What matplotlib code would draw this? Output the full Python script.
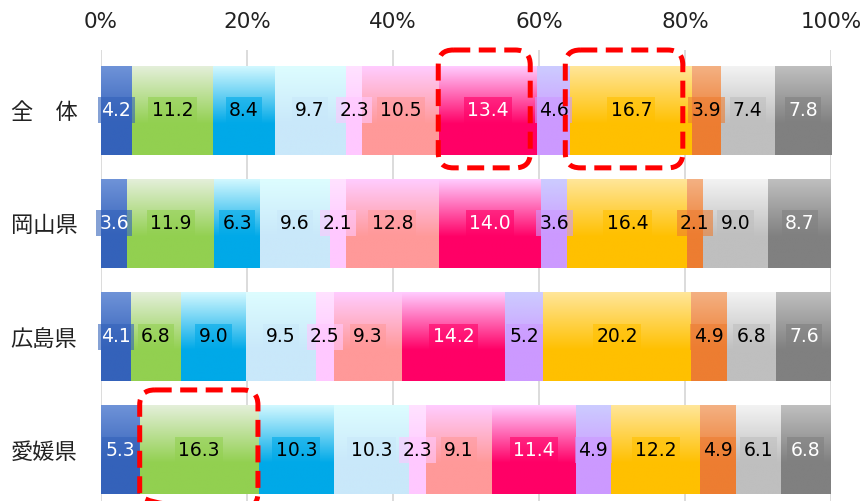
import numpy as np
import matplotlib
matplotlib.use("Agg")
import matplotlib.pyplot as plt
from matplotlib.colors import to_rgb
from matplotlib.patches import FancyBboxPatch

plt.rcParams['font.family'] = ['DejaVu Sans', 'Noto Sans CJK JP']

regions = ['全\u3000体', '岡山県', '広島県', '愛媛県']
values = [
    [4.2, 11.2, 8.4, 9.7, 2.3, 10.5, 13.4, 4.6, 16.7, 3.9, 7.4, 7.8],
    [3.6, 11.9, 6.3, 9.6, 2.1, 12.8, 14.0, 3.6, 16.4, 2.1, 9.0, 8.7],
    [4.1, 6.8, 9.0, 9.5, 2.5, 9.3, 14.2, 5.2, 20.2, 4.9, 6.8, 7.6],
    [5.3, 16.3, 10.3, 10.3, 2.3, 9.1, 11.4, 4.9, 12.2, 4.9, 6.1, 6.8],
]
xticks = [0, 20, 40, 60, 80, 100]
xticklabels = ['0%', '20%', '40%', '60%', '80%', '100%']

base_colors = ['#3462BA', '#92D050', '#00A9E8', '#C9E8FA', '#FFC8FF', '#FF9999',
               '#FF0066', '#CC99FF', '#FFC000', '#ED7D31', '#BFBFBF', '#808080']
top_colors = ['#6F93D8', '#E4EFDA', '#D2F8FF', '#DDFDFF', '#FFE2FF', '#FFCCFF',
              '#FFCCFF', '#CCCCFF', '#FFE69A', '#F4B183', '#F3F3F3', '#BFBFBF']
text_colors = ['white', 'black', 'black', 'black', 'black', 'black',
               'white', 'black', 'black', 'black', 'black', 'white']

# highlighted cells: (row index, series index)
highlights = [(0, 6), (0, 8), (3, 1)]
# horizontal offsets (left, right) of each highlight frame, in % units
highlight_offsets = [(-0.1, -0.9), (-0.7, -1.3), (0.0, -0.1)]

W, H, DPI = 8.64, 5.01, 100
fig = plt.figure(figsize=(W, H), dpi=DPI)
ax_left, ax_right = 101 / 864, 831 / 864
ax_top_px = 50
ax = fig.add_axes([ax_left, 0, ax_right - ax_left, 1 - ax_top_px / 501])

bar_h = 0.785
ylim = (3.45, -0.53)

N = 200
t = np.linspace(0, 1, N)
mix = np.clip(t / 0.65, 0, 1)

for i, row in enumerate(values):
    left = 0.0
    for j, v in enumerate(row):
        top = np.array(to_rgb(top_colors[j]))
        bot = np.array(to_rgb(base_colors[j]))
        grad = (top[None, :] * (1 - mix[:, None]) + bot[None, :] * mix[:, None])[:, None, :]
        ax.imshow(grad, extent=(left, left + v, i + bar_h / 2, i - bar_h / 2),
                  origin='upper', aspect='auto', interpolation='bilinear', zorder=2)
        ax.text(left + v / 2, i, f'{v:.1f}', ha='center', va='center',
                fontsize=13.5, color=text_colors[j], zorder=4,
                bbox=dict(boxstyle='square,pad=0.18', facecolor=base_colors[j],
                          edgecolor='none', alpha=0.6))
        left += v

ax.set_xlim(0, 100)
ax.set_ylim(*ylim)

# aspect for rounded corners in pixel space
ax_w_px = (ax_right - ax_left) * W * DPI
ax_h_px = (1 - ax_top_px / 501) * H * DPI
px_per_x = ax_w_px / 100
px_per_y = ax_h_px / (ylim[0] - ylim[1])
for (ri, sj), (ol, orr) in zip(highlights, highlight_offsets):
    start = sum(values[ri][:sj])
    end = start + values[ri][sj]
    x0 = start + ol
    x1 = end + orr
    y0 = ri - 0.53
    y1 = ri + 0.51
    r = 15 / px_per_x
    p = FancyBboxPatch((x0, y0), x1 - x0, y1 - y0,
                       boxstyle=f'round,pad=0,rounding_size={r}',
                       mutation_aspect=px_per_x / px_per_y,
                       facecolor='none', edgecolor='#FF0000', linewidth=3.6,
                       linestyle=(0, (3.4, 1.7)), zorder=5, clip_on=False)
    ax.add_patch(p)

ax.set_xticks(xticks)
ax.set_xticklabels(xticklabels, fontsize=15.5, color='#222222')
ax.xaxis.tick_top()
ax.tick_params(axis='x', length=0, pad=13)
ax.set_yticks(range(len(regions)))
ax.set_yticklabels(regions, fontsize=16, color='#222222')
ax.tick_params(axis='y', length=0, pad=17)
for lab in ax.get_yticklabels():
    lab.set_family(['Noto Sans CJK JP', 'DejaVu Sans'])
ax.grid(axis='x', color='#D9D9D9', linewidth=1.3, zorder=0)
ax.set_axisbelow(True)
for s in ax.spines.values():
    s.set_visible(False)

fig.savefig('out.png', dpi=DPI)
